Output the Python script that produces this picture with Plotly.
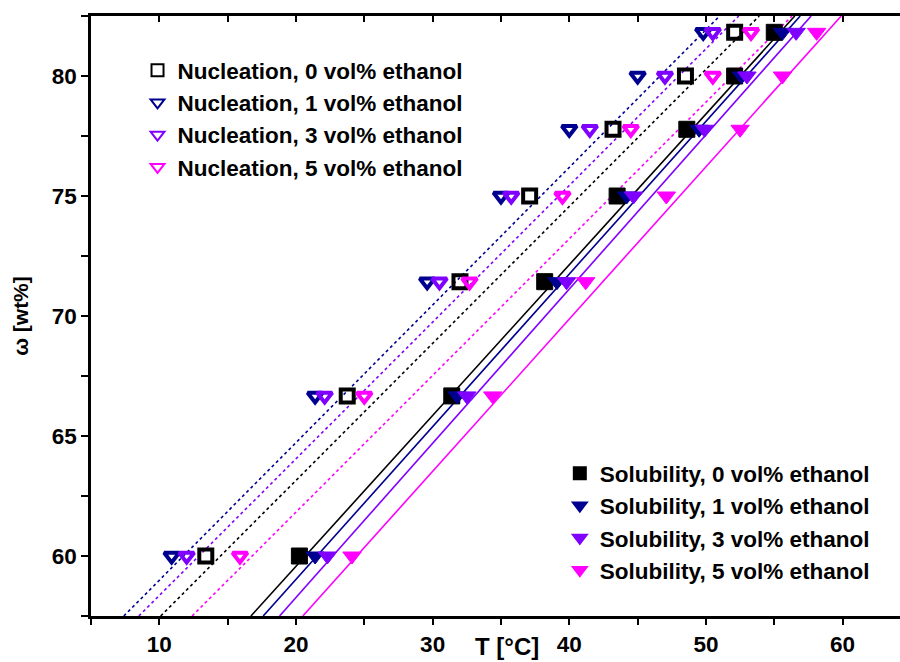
import plotly.graph_objects as go

# Mass fraction levels (wt%)
omega = [60.0, 66.67, 71.43, 75.0, 77.78, 80.0, 81.82]

# Nucleation temperatures (°C)
nuc_0 = [13.4, 23.75, 32.0, 37.1, 43.2, 48.5, 52.1]
nuc_1 = [10.9, 21.4, 29.6, 35.0, 40.0, 45.0, 49.8]
nuc_3 = [12.0, 22.1, 30.5, 35.75, 41.5, 47.0, 50.5]
nuc_5 = [15.9, 25.0, 32.7, 39.5, 44.5, 50.5, 53.3]

# Solubility temperatures (°C)
sol_0 = [20.25, 31.4, 38.2, 43.5, 48.6, 52.1, 55.0]
sol_1 = [21.4, 31.8, 39.1, 44.2, 49.5, 52.6, 55.6]
sol_3 = [22.3, 32.5, 39.8, 44.7, 49.9, 53.0, 56.6]
sol_5 = [24.1, 34.4, 41.2, 47.1, 52.5, 55.6, 58.1]

# Fit lines: temperature at omega = 57.5 and 82.5
fit_omega = [57.5, 82.5]
fit_nuc_0 = [10.1, 53.9]
fit_nuc_1 = [7.4, 51.0]
fit_nuc_3 = [8.5, 52.4]
fit_nuc_5 = [12.4, 56.3]
fit_sol_0 = [16.7, 56.5]
fit_sol_1 = [17.6, 56.9]
fit_sol_3 = [18.8, 57.7]
fit_sol_5 = [20.5, 59.9]

BLACK = "#000000"
NAVY = "#000090"
VIOLET = "#8000FF"
MAGENTA = "#FF00FF"

fig = go.Figure()

# fit lines
for xs, col, dash in [
    (fit_nuc_0, BLACK, "dot"), (fit_nuc_1, NAVY, "dot"), (fit_nuc_3, VIOLET, "dot"), (fit_nuc_5, MAGENTA, "dot"),
    (fit_sol_0, BLACK, "solid"), (fit_sol_1, NAVY, "solid"), (fit_sol_3, VIOLET, "solid"), (fit_sol_5, MAGENTA, "solid"),
]:
    fig.add_trace(go.Scatter(x=xs, y=fit_omega, mode="lines", showlegend=False,
                             line=dict(color=col, width=1.6, dash=dash), hoverinfo="skip"))

# nucleation markers
nuc_series = [
    ("Nucleation, 0 vol% ethanol", nuc_0, BLACK, "square-open"),
    ("Nucleation, 1 vol% ethanol", nuc_1, NAVY, "triangle-down-open"),
    ("Nucleation, 3 vol% ethanol", nuc_3, VIOLET, "triangle-down-open"),
    ("Nucleation, 5 vol% ethanol", nuc_5, MAGENTA, "triangle-down-open"),
]
for name, xs, col, sym in nuc_series:
    fig.add_trace(go.Scatter(x=xs, y=omega, mode="markers", name=name, legend="legend",
                             marker=dict(symbol=sym, size=13, color=col,
                                         line=dict(color=col, width=4))))

sol_series = [
    ("Solubility, 0 vol% ethanol", sol_0, BLACK, "square"),
    ("Solubility, 1 vol% ethanol", sol_1, NAVY, "triangle-down"),
    ("Solubility, 3 vol% ethanol", sol_3, VIOLET, "triangle-down"),
    ("Solubility, 5 vol% ethanol", sol_5, MAGENTA, "triangle-down"),
]
for name, xs, col, sym in sol_series:
    fig.add_trace(go.Scatter(x=xs, y=omega, mode="markers", name=name, legend="legend2",
                             marker=dict(symbol=sym, size=16, color=col,
                                         line=dict(color=col, width=1))))

FONT = "Liberation Sans"
tickfont = dict(family=FONT, size=22.5, color="black", weight="bold")
legfont = dict(family=FONT, size=22.5, color="black", weight="bold")

fig.update_layout(
    width=900, height=662,
    margin=dict(l=91, r=0, t=16, b=46),
    paper_bgcolor="white", plot_bgcolor="white",
    font=dict(family=FONT, color="black"),
    xaxis=dict(range=[5, 64.2], tickvals=[10, 20, 30, 40, 50, 60], ticks="outside", ticklen=6, tickwidth=2,
               minor=dict(tickvals=[5, 15, 25, 35, 45, 55], ticks="outside", ticklen=6, tickwidth=2, tickcolor="black"),
               showline=True, linewidth=2.5, linecolor="black", showgrid=False, zeroline=False,
               tickfont=tickfont, tickcolor="black"),
    xaxis2=dict(range=[5, 64.2], overlaying="x", side="top", matches="x",
                tickvals=[10, 15, 20, 25, 30, 35, 40, 45, 50, 55, 60], ticks="inside", ticklen=6, tickwidth=2,
                tickcolor="black", showticklabels=False,
                showline=True, linewidth=2.5, linecolor="black", showgrid=False, zeroline=False),
    yaxis=dict(range=[57.5, 82.5], tickvals=[60, 65, 70, 75, 80], ticks="outside", ticklen=7, tickwidth=2,
               minor=dict(tickvals=[57.5, 62.5, 67.5, 72.5, 77.5, 82.5], ticks="outside", ticklen=7, tickwidth=2, tickcolor="black"),
               showline=True, linewidth=2.5, linecolor="black", showgrid=False, zeroline=False,
               tickfont=tickfont, tickcolor="black",
               title=dict(text="ω [wt%]", font=dict(family=FONT, size=21, color="black", weight="bold"), standoff=18)),
    legend=dict(x=0.0575, y=0.945, xanchor="left", yanchor="top", bgcolor="rgba(0,0,0,0)",
                font=legfont, itemsizing="constant", tracegroupgap=0),
    legend2=dict(x=0.5795, y=0.273, xanchor="left", yanchor="top", bgcolor="rgba(0,0,0,0)",
                 font=legfont, itemsizing="constant"),
    annotations=[dict(text="T [°C]", xref="paper", yref="paper", x=0.514, y=0, yshift=-30,
                      xanchor="center", yanchor="middle", showarrow=False,
                      font=dict(family=FONT, size=24, color="black", weight="bold"))],
)
# dummy trace to show the top axis
fig.add_trace(go.Scatter(x=[None], y=[None], xaxis="x2", showlegend=False))

fig.write_html("out.html")
